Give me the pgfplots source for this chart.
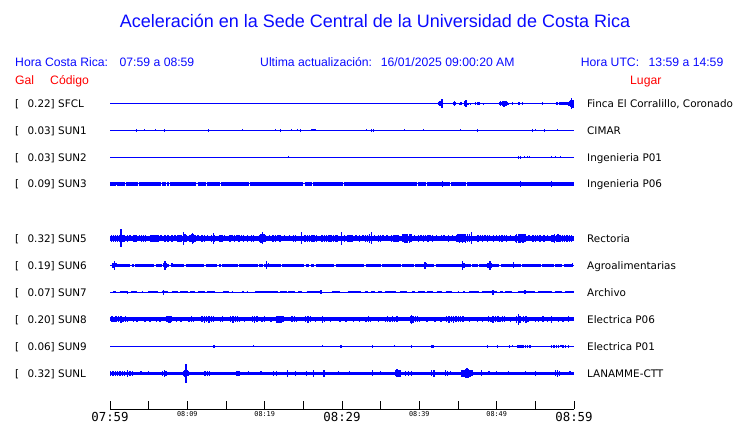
\documentclass[border=0pt]{standalone}
\usepackage{pgfplots}
\usepackage{pgfplotstable}
\pgfplotsset{compat=1.18}
\usepackage{fontspec}
\setmainfont{Liberation Sans}
\newfontfamily\dejavu{DejaVu Sans}
\newfontfamily\dmono{DejaVu Sans Mono}
\definecolor{tracecol}{RGB}{0,0,255}
\definecolor{hblue}{RGB}{10,10,255}
\definecolor{hred}{RGB}{255,0,0}

% spike / burst tables: t = minutes after 07:59, a = half amplitude (px)
\pgfplotstableread[row sep=\\]{t y a\\
42.45 0 1.5\\ 42.6 0 2.5\\ 42.75 0 2.7\\ 42.85 0 2.5\\ 42.93 0 4.2\\ 43.02 0 1.5\\
44.4 0 1.8\\ 44.55 0 2.2\\ 44.7 0 1.5\\ 45.2 0 1.0\\ 45.4 0 1.2\\ 45.9 0 2.8\\ 46.05 0 3.2\\
46.3 0 0.8\\ 46.6 0 1.0\\ 47.3 0 1.3\\ 47.5 0 1.5\\ 47.7 0 1.2\\ 48.3 0 0.8\\
50.35 0 1.5\\ 50.5 0 2.3\\ 50.65 0 1.8\\ 50.8 0 2.6\\ 50.95 0 3.0\\ 51.1 0 2.2\\ 51.25 0 2.4\\ 51.4 0 1.6\\
51.55 0 0.9\\ 52.07 0 1.2\\ 52.9 0 1.5\\ 53.37 0 1.4\\ 55.95 0 1.2\\
57.7 0 1.6\\ 57.9 0 1.8\\ 58.1 0 1.2\\ 58.3 0 1.4\\ 58.5 0 1.8\\ 58.7 0 1.5\\ 58.9 0 1.8\\ 59.1 0 1.6\\ 59.25 0 2.0\\
59.4 0 2.5\\ 59.55 0 3.5\\ 59.7 0 5.3\\ 59.85 0 4.0\\ 59.97 0 2.8\\
}\sfcl
\pgfplotstableread[row sep=\\]{t y a\\
3.45 0 1.3\\ 4.44 0 1.0\\ 5.9 0 0.8\\ 7.03 0 1.3\\ 12.72 0 1.3\\ 17.11 0 0.8\\ 21.42 0 0.8\\ 22.07 0 1.3\\
23.49 0 0.8\\ 24.22 0 1.0\\ 24.66 0 1.3\\ 26.1 0 1.0\\ 26.3 0 1.0\\ 26.5 0 1.0\\ 33.19 0 0.8\\ 33.85 0 1.5\\ 34.05 0 1.5\\
38.06 0 0.8\\ 40.52 0 0.8\\ 45.34 0 0.8\\ 47.54 0 1.3\\ 54.61 0 1.3\\ 55.04 0 0.8\\ 56.16 0 1.3\\ 57.84 0 0.8\\
}\sunone
\pgfplotstableread[row sep=\\]{t y a\\
23.06 0 0.8\\ 52.85 0 1.3\\ 53.05 0 1.3\\ 53.58 0 1.2\\ 53.97 0 1.2\\ 54.22 0 1.2\\ 57.11 0 1.2\\ 57.63 0 1.2\\ 58.28 0 1.2\\
}\suntwo
\pgfplotstableread[row sep=\\]{t y a\\
0.86 0 1.5\\ 42.97 0 3.0\\ 53.1 0 3.3\\ 54.22 0 2.2\\ 57.11 0 2.7\\ 59.48 0 1.8\\
}\sunthree
\pgfplotstableread[row sep=\\]{t y a\\
0.2 0 3.3\\ 0.45 0 3.6\\ 0.7 0 3.2\\ 0.95 0 3.5\\ 1.2 0 3.8\\ 1.42 0 9.0\\ 1.6 0 3.5\\ 1.8 0 3.2\\
2.3 0 3.2\\ 2.6 0 3.0\\
3.0 0 3.4\\ 3.25 0 3.6\\ 3.45 0 3.2\\ 3.8 0 3.0\\ 4.1 0 3.3\\ 4.35 0 3.5\\ 4.6 0 3.2\\
5.2 0 3.6\\ 5.45 0 3.3\\ 5.7 0 3.8\\ 5.95 0 3.4\\ 6.2 0 3.5\\ 6.6 0 3.1\\ 7.1 0 3.5\\ 7.5 0 3.4\\
8.0 0 3.2\\ 8.4 0 3.0\\ 8.8 0 3.3\\
9.05 0 3.3\\ 9.25 0 3.8\\ 9.48 0 6.5\\ 9.7 0 4.0\\ 9.9 0 3.4\\
10.35 0 3.6\\ 10.5 0 4.0\\ 10.65 0 5.8\\ 10.8 0 4.2\\ 11.0 0 3.5\\ 11.4 0 3.0\\ 11.9 0 3.2\\ 12.2 0 3.3\\ 12.6 0 3.1\\
13.15 0 3.5\\ 13.36 0 5.5\\ 13.55 0 3.8\\ 14.2 0 3.2\\ 14.5 0 3.4\\ 14.8 0 3.1\\
15.5 0 3.2\\ 15.8 0 3.0\\ 16.1 0 3.4\\ 16.4 0 3.1\\ 16.7 0 3.3\\ 17.0 0 3.0\\ 17.3 0 3.2\\ 17.8 0 3.2\\
18.3 0 3.4\\ 18.55 0 3.6\\ 19.4 0 3.8\\ 19.55 0 4.2\\ 19.7 0 6.0\\ 19.9 0 4.0\\ 20.1 0 3.6\\ 20.6 0 3.0\\
21.1 0 3.2\\ 21.4 0 3.3\\ 21.7 0 3.0\\ 22.0 0 3.4\\ 22.6 0 3.1\\ 23.2 0 3.0\\ 23.7 0 3.2\\ 24.0 0 3.3\\ 24.78 0 6.0\\
25.2 0 3.3\\ 25.5 0 3.6\\ 25.8 0 3.2\\ 26.1 0 3.5\\ 26.4 0 3.3\\ 26.7 0 3.6\\
27.4 0 3.4\\ 27.7 0 3.2\\ 28.0 0 3.6\\ 28.3 0 3.3\\ 28.6 0 3.5\\ 28.9 0 3.2\\ 29.2 0 3.6\\ 29.45 0 3.4\\
29.96 0 6.3\\ 30.3 0 3.2\\ 30.8 0 3.5\\ 31.05 0 3.8\\ 31.3 0 3.4\\ 31.8 0 3.1\\ 32.3 0 3.3\\ 32.7 0 3.0\\
33.0 0 3.4\\ 33.3 0 3.8\\ 33.55 0 4.2\\ 33.8 0 6.0\\ 34.2 0 3.1\\ 34.7 0 3.2\\ 35.0 0 3.4\\ 35.3 0 3.1\\ 35.8 0 3.0\\
36.4 0 3.5\\ 36.7 0 3.3\\ 37.0 0 3.6\\ 37.25 0 3.4\\
37.9 0 4.0\\ 38.1 0 4.5\\ 38.3 0 4.3\\ 38.5 0 4.6\\ 38.7 0 4.2\\ 38.9 0 4.0\\ 39.4 0 3.1\\
39.9 0 3.2\\ 40.2 0 3.0\\ 40.5 0 3.3\\ 40.8 0 3.1\\ 41.1 0 3.2\\ 41.4 0 3.0\\ 41.7 0 3.3\\ 42.2 0 3.0\\
42.9 0 2.9\\ 43.2 0 3.0\\ 43.8 0 3.2\\ 44.3 0 3.1\\
44.8 0 3.8\\ 45.0 0 4.1\\ 45.2 0 4.3\\ 45.4 0 3.9\\ 45.6 0 4.2\\ 45.8 0 4.0\\ 46.0 0 4.4\\ 46.2 0 3.9\\ 46.45 0 4.1\\ 46.77 0 6.0\\
47.6 0 3.2\\ 47.9 0 3.1\\ 48.2 0 3.4\\ 48.5 0 3.1\\ 48.8 0 3.3\\ 49.1 0 3.0\\ 49.6 0 3.2\\ 50.0 0 3.0\\
50.4 0 3.2\\ 50.7 0 3.4\\ 51.0 0 3.1\\ 51.3 0 3.3\\ 51.8 0 3.1\\
52.4 0 3.8\\ 52.6 0 4.2\\ 52.8 0 4.5\\ 53.0 0 4.2\\ 53.2 0 3.9\\ 53.4 0 4.3\\ 53.65 0 3.9\\ 54.2 0 3.0\\
54.7 0 3.2\\ 55.0 0 3.4\\ 55.3 0 3.1\\ 55.6 0 3.3\\ 56.1 0 3.2\\ 56.6 0 3.0\\
57.1 0 3.5\\ 57.3 0 3.8\\ 57.5 0 4.5\\ 57.7 0 3.6\\ 57.95 0 3.9\\ 58.2 0 3.4\\ 58.5 0 3.7\\ 58.8 0 3.5\\ 59.1 0 3.8\\ 59.4 0 3.4\\ 59.65 0 3.6\\
}\sunfive
\pgfplotstableread[row sep=\\]{t y a\\
0.4 0 2.2\\ 0.56 0 4.8\\ 0.75 0 2.0\\ 1.5 0 1.8\\ 3.6 0 1.8\\ 4.0 0 1.6\\ 6.9 0 2.0\\ 7.11 0 4.8\\ 7.3 0 2.2\\
8.0 0 2.0\\ 8.3 0 1.8\\ 10.7 0 1.8\\ 13.8 0 1.8\\ 18.5 0 1.6\\ 20.26 0 4.0\\ 20.5 0 2.0\\ 24.0 0 1.8\\
27.5 0 1.8\\ 31.0 0 1.7\\ 34.5 0 1.8\\ 38.0 0 1.8\\ 40.73 0 3.5\\ 40.9 0 2.0\\ 41.1 0 1.8\\ 43.3 0 1.8\\
45.56 0 4.8\\ 45.8 0 2.2\\ 47.0 0 1.8\\ 48.9 0 2.5\\ 49.14 0 4.8\\ 49.3 0 2.2\\ 52.16 0 3.0\\ 54.0 0 1.6\\ 57.0 0 1.8\\ 59.8 0 2.0\\
}\sunsix
\pgfplotstableread[row sep=\\]{t y a\\
2.3 0 1.5\\ 6.9 0 2.3\\ 27.3 0 2.0\\ 49.5 0 2.2\\ 53.65 0 2.0\\
}\sunseven
\pgfplotstableread[row sep=\\]{t y a\\
0.25 0 3.0\\ 0.5 0 2.8\\ 0.8 0 3.1\\ 1.1 0 2.9\\ 1.4 0 3.2\\ 1.7 0 2.8\\ 2.0 0 3.0\\ 2.3 0 2.8\\
3.0 0 2.8\\ 3.5 0 2.7\\ 4.53 0 2.8\\ 5.17 0 2.8\\ 6.0 0 2.8\\ 6.47 0 2.7\\ 7.35 0 3.0\\ 7.55 0 3.6\\ 7.75 0 3.4\\ 7.95 0 2.9\\
8.6 0 2.7\\ 9.2 0 2.8\\
10.2 0 2.8\\ 10.5 0 3.0\\ 10.8 0 2.8\\ 11.9 0 2.9\\ 12.2 0 3.3\\ 12.5 0 3.0\\ 12.8 0 3.2\\ 13.1 0 2.9\\ 13.4 0 3.1\\
14.3 0 2.8\\ 14.55 0 2.9\\ 15.6 0 3.0\\ 15.9 0 3.2\\ 16.2 0 2.9\\ 16.5 0 3.1\\ 16.75 0 2.8\\ 17.4 0 2.7\\
18.4 0 3.0\\ 18.7 0 3.2\\ 19.0 0 2.9\\ 19.65 0 2.8\\ 19.95 0 2.9\\ 20.8 0 2.8\\
21.6 0 3.2\\ 21.85 0 3.6\\ 22.1 0 3.4\\ 22.35 0 3.0\\ 23.55 0 2.9\\ 23.85 0 3.1\\ 24.15 0 2.8\\
25.3 0 3.0\\ 25.6 0 3.2\\ 25.9 0 2.9\\ 26.6 0 2.7\\ 27.45 0 3.3\\ 27.75 0 2.8\\ 28.5 0 2.8\\ 29.74 0 2.8\\
30.5 0 2.7\\ 31.5 0 2.8\\ 32.3 0 2.7\\
33.1 0 2.8\\ 33.4 0 3.0\\ 33.7 0 2.8\\ 34.7 0 2.8\\
35.6 0 2.8\\ 35.9 0 3.0\\ 36.2 0 2.8\\ 36.5 0 3.0\\ 36.8 0 2.8\\ 37.1 0 2.9\\
38.85 0 3.2\\ 39.0 0 4.2\\ 39.2 0 3.5\\ 39.5 0 3.0\\ 39.8 0 3.1\\ 40.05 0 2.8\\
41.0 0 2.8\\ 42.0 0 2.7\\ 42.8 0 2.8\\
43.55 0 2.9\\ 43.85 0 3.2\\ 44.15 0 3.0\\ 44.45 0 3.3\\ 44.75 0 3.0\\ 45.05 0 3.1\\ 45.35 0 2.9\\ 45.65 0 3.0\\
46.5 0 2.7\\ 47.5 0 2.8\\ 48.2 0 2.7\\
48.95 0 3.0\\ 49.25 0 2.8\\ 49.55 0 3.2\\ 49.85 0 2.9\\ 50.15 0 3.1\\ 50.45 0 2.8\\ 50.75 0 3.0\\ 51.0 0 2.9\\ 51.8 0 2.8\\
52.6 0 3.2\\ 52.8 0 5.5\\ 53.0 0 3.4\\ 53.5 0 3.0\\ 53.8 0 3.2\\ 54.05 0 2.8\\
55.0 0 2.7\\ 55.4 0 2.8\\ 56.0 0 2.9\\ 56.6 0 2.8\\ 57.1 0 3.2\\ 58.0 0 2.7\\ 58.6 0 2.8\\ 59.27 0 2.9\\
}\suneight
\pgfplotstableread[row sep=\\]{t y a\\
13.36 0 1.3\\ 13.55 0 1.3\\ 18.53 0 1.0\\ 22.28 0 0.8\\ 23.06 0 0.8\\ 24.05 0 0.8\\ 26.81 0 0.8\\ 27.46 0 1.0\\
29.87 0 1.2\\ 33.97 0 1.3\\ 36.77 0 1.0\\ 39.0 0 1.2\\ 41.6 0 1.5\\ 41.75 0 1.3\\ 43.23 0 0.8\\ 43.88 0 0.8\\
45.78 0 0.8\\ 48.8 0 1.2\\ 50.13 0 1.3\\ 51.64 0 1.2\\ 52.03 0 1.0\\
52.7 0 1.3\\ 52.9 0 1.8\\ 53.1 0 1.5\\ 53.3 0 1.3\\ 53.5 0 1.2\\ 53.7 0 1.4\\ 54.0 0 1.2\\ 54.3 0 1.3\\ 55.8 0 0.8\\
57.1 0 1.2\\ 57.4 0 1.3\\ 57.7 0 1.2\\ 58.0 0 1.3\\ 58.3 0 1.1\\ 58.6 0 1.3\\ 58.9 0 1.2\\ 59.3 0 1.3\\
}\sunnine
\pgfplotstableread[row sep=\\]{t y a\\
0.1 0 2.2\\ 0.4 0 2.5\\ 0.7 0 2.3\\ 1.0 0 2.5\\ 1.3 0 2.2\\ 1.6 0 2.4\\ 1.9 0 2.2\\
2.24 0 3.5\\ 2.6 0 2.5\\ 2.9 0 2.4\\ 4.0 0 2.0\\ 5.0 0 2.0\\ 6.75 0 2.3\\ 7.03 0 3.6\\ 7.25 0 2.4\\
9.5 0 2.8\\ 9.65 0 3.2\\ 9.83 0 9.3\\ 10.0 0 3.0\\ 10.15 0 2.4\\ 12.3 0 2.4\\ 12.6 0 2.6\\ 12.9 0 2.3\\
16.4 0 2.4\\ 16.7 0 2.6\\ 17.89 0 2.0\\ 19.5 0 2.0\\ 21.15 0 2.4\\ 21.5 0 2.6\\ 22.97 0 3.5\\ 24.0 0 2.2\\
25.43 0 2.5\\ 26.3 0 3.5\\ 27.67 0 3.5\\ 29.53 0 2.0\\ 31.0 0 2.0\\ 33.97 0 3.0\\ 35.0 0 2.0\\
36.9 0 3.0\\ 37.1 0 4.0\\ 37.3 0 3.6\\ 37.5 0 3.2\\ 38.2 0 2.5\\ 38.6 0 2.8\\ 39.0 0 2.5\\
41.6 0 3.0\\ 41.9 0 3.2\\ 43.35 0 3.0\\ 43.65 0 2.8\\ 44.0 0 2.0\\
45.5 0 3.2\\ 45.75 0 3.8\\ 45.95 0 4.5\\ 46.15 0 5.0\\ 46.35 0 4.5\\ 46.55 0 3.6\\ 46.8 0 3.0\\
48.06 0 3.0\\ 49.0 0 2.0\\ 50.0 0 2.0\\ 51.5 0 2.0\\ 53.75 0 2.0\\ 55.0 0 2.2\\
57.6 0 3.0\\ 57.85 0 3.4\\ 58.1 0 2.8\\ 59.5 0 2.0\\
}\sunl

\pgfplotsset{
  trace/.style={at={(110bp,#1bp)}, anchor=south west, scale only axis, width=464bp, height=28bp,
    xmin=0, xmax=60, ymin=-14, ymax=14, hide axis, clip=false},
  base/.style={draw=tracecol, line width=1bp, mark=none},
  core/.style={draw=tracecol, line width=#1, mark=none, unbounded coords=jump, line cap=butt},
  spk/.style={draw=tracecol, line width=1bp, mark=none,
    error bars/y dir=both, error bars/y explicit, error bars/error mark=none,
    error bars/error bar style={line width=1.4bp, draw=tracecol, line cap=butt}},
}
\newcommand{\hfont}{\fontsize{12.2bp}{14bp}\selectfont}
\newcommand{\lfont}{\dejavu\fontsize{10.4bp}{12bp}\selectfont}
\newcommand{\bigt}{\dmono\fontsize{12.4bp}{13bp}\selectfont}
\newcommand{\smt}{\dmono\fontsize{6.8bp}{7bp}\selectfont}

\begin{document}
\begin{tikzpicture}[x=1bp,y=1bp]
\useasboundingbox (0,0) rectangle (740,423);
% header
\node[anchor=base, inner sep=0, text=hblue, font=\fontsize{18bp}{20bp}\selectfont] at (375,395) {Aceleración en la Sede Central de la Universidad de Costa Rica};
\begin{scope}[every node/.style={inner sep=0, font=\hfont}]
\node[anchor=base west, text=hblue] at (15,357) {Hora Costa Rica:};
\node[anchor=base east, text=hblue] at (194.5,357) {07:59 a 08:59};
\node[anchor=base west, text=hblue] at (260,357) {Ultima actualización:};
\node[anchor=base west, text=hblue] at (380.7,357) {16/01/2025 09:00:20 AM};
\node[anchor=base west, text=hblue] at (580.7,357) {Hora UTC:};
\node[anchor=base east, text=hblue] at (723.5,357) {13:59 a 14:59};
\node[anchor=base west, text=hred] at (15,338.5) {Gal};
\node[anchor=base west, text=hred] at (50,338.5) {Código};
\node[anchor=base west, text=hred] at (630,338.5) {Lugar};
\end{scope}
% station labels
\begin{scope}[every node/.style={inner sep=0, font=\lfont, text=black}]
\foreach \yy/\gal/\cod/\lug in {319.3/0.22/SFCL/{Finca El Corralillo, Coronado}, 292.7/0.03/SUN1/CIMAR,
  265.7/0.03/SUN2/Ingenieria P01, 239/0.09/SUN3/Ingenieria P06, 184.7/0.32/SUN5/Rectoria,
  157.7/0.19/SUN6/Agroalimentarias, 130.7/0.07/SUN7/Archivo, 103.7/0.20/SUN8/Electrica P06,
  76.7/0.06/SUN9/Electrica P01, 49.7/0.32/SUNL/LANAMME-CTT}{
  \node[anchor=base west] at (15,\yy-3.7) {[};
  \node[anchor=base east] at (55,\yy-3.7) {\gal]};
  \node[anchor=base west] at (58,\yy-3.7) {\cod};
  \node[anchor=base west] at (587,\yy-3.7) {\lug};
}
\end{scope}

% rows: axis bottom (ymin=-14) at row centre - 14
% SFCL
\begin{axis}[trace=305.3]
\addplot[base] coordinates {(0,0)(60,0)};
\addplot[core=5.0bp] coordinates {(42.5,0)(42.95,0) (59.4,nan) (59.42,0)(60,0)};
\addplot[spk] table[x=t,y=y,y error=a]{\sfcl};
\end{axis}
% SUN1
\begin{axis}[trace=278.7]
\addplot[base] coordinates {(0,0)(60,0)};
\addplot[spk] table[x=t,y=y,y error=a]{\sunone};
\end{axis}
% SUN2
\begin{axis}[trace=251.7]
\addplot[base] coordinates {(0,0)(60,0)};
\addplot[spk] table[x=t,y=y,y error=a]{\suntwo};
\end{axis}
% SUN3
\begin{axis}[trace=225]
\addplot[base] coordinates {(0,0)(60,0)};
\addplot[core=3.3bp] coordinates {(0.05,0)(0.78,0) (0.86,nan) (0.95,0)(1.95,0) (2.03,nan) (2.1,0)(3.6,0)
 (3.66,nan) (3.75,0)(6.6,0) (6.68,nan) (6.78,0)(7.2,0) (7.28,nan) (7.36,0)(7.65,0) (7.72,nan) (7.8,0)(11.17,0)
 (11.25,nan) (11.33,0)(12.42,0) (12.5,nan) (12.58,0)(14.23,0) (14.31,nan) (14.4,0)(17.98,0) (18.06,nan)
 (18.15,0)(25.0,0) (25.09,nan) (25.18,0)(26.08,0) (26.16,nan) (26.25,0)(30.08,0) (30.17,nan) (30.26,0)(39.7,0)
 (39.78,nan) (39.86,0)(40.87,0) (40.95,nan) (41.04,0)(43.97,0) (44.05,nan) (44.14,0)(46.0,0) (46.08,nan) (46.17,0)(60,0)};
\addplot[spk] table[x=t,y=y,y error=a]{\sunthree};
\end{axis}
% SUN5
\begin{axis}[trace=170.7]
\addplot[base] coordinates {(0,0)(60,0)};
\addplot[core=5.2bp] coordinates {(0.05,0)(60,0)};
\addplot[spk] table[x=t,y=y,y error=a]{\sunfive};
\end{axis}
% SUN6
\begin{axis}[trace=143.7]
\addplot[base] coordinates {(0,0)(60,0)};
\addplot[core=2.7bp] coordinates {(0.2,0)(2.62,0) (2.7,nan) (2.82,0)(3.05,0) (3.1,nan) (3.25,0)(5.72,0) (5.8,nan)
 (5.92,0)(6.67,0) (6.7,nan) (6.87,0)(7.66,0) (7.7,nan) (7.86,0)(9.6,0) (9.7,nan) (9.8,0)(10.55,0) (10.6,nan)
 (10.75,0)(12.18,0) (12.3,nan) (12.38,0)(13.9,0) (14,nan) (14.1,0)(14.34,0) (14.4,nan) (14.54,0)(16.5,0) (16.6,nan)
 (16.7,0)(19.08,0) (19.2,nan) (19.28,0)(19.73,0) (19.8,nan) (19.93,0)(22.1,0) (22.2,nan) (22.3,0)(25.1,0) (25.2,nan)
 (25.3,0)(25.76,0) (25.8,nan) (25.96,0)(26.4,0) (26.5,nan) (26.6,0)(29.0,0) (29.1,nan) (29.2,0)(32.9,0) (33,nan)
 (33.1,0)(35.03,0) (35.1,nan) (35.23,0)(37.6,0) (37.7,nan) (37.8,0)(39.3,0) (39.4,nan) (39.5,0)(41.9,0) (42,nan)
 (42.1,0)(46.67,0) (46.8,nan) (46.87,0)(47.53,0) (47.6,nan) (47.73,0)(50.33,0) (50.4,nan) (50.53,0)(53.13,0) (53.2,nan)
 (53.33,0)(55.7,0) (55.8,nan) (55.9,0)(57.4,0) (57.5,nan) (57.6,0)(58.5,0) (58.6,nan) (58.7,0)(59.9,0)};
\addplot[spk] table[x=t,y=y,y error=a]{\sunsix};
\end{axis}
% SUN7
\begin{axis}[trace=116.7]
\addplot[base] coordinates {(0,0)(60,0)};
\addplot[core=2.2bp] coordinates {(0.43,0)(0.78,0) (1,nan) (1.29,0)(2.37,0) (2.5,nan) (2.67,0)(3.53,0) (3.8,nan)
 (4.09,0)(4.31,0) (4.6,nan) (4.96,0)(6.16,0) (6.4,nan) (6.68,0)(7.54,0) (7.7,nan) (7.97,0)(8.84,0) (9,nan)
 (9.09,0)(10.13,0) (10.2,nan) (10.39,0)(10.99,0) (11.1,nan) (11.34,0)(12.28,0) (12.4,nan) (12.5,0)(13.58,0) (14,nan)
 (14.66,0)(15.39,0) (15.5,nan) (15.73,0)(15.95,0) (16.5,nan) (17.03,0)(17.37,0) (17.5,nan) (17.67,0)(17.89,0) (18.3,nan)
 (18.75,0)(21.77,0) (21.9,nan) (21.98,0)(22.84,0) (22.9,nan) (23.06,0)(23.92,0) (24.1,nan) (24.35,0)(24.78,0) (25,nan)
 (25.43,0)(27.37,0) (28,nan) (28.66,0)(29.74,0) (30.2,nan) (30.73,0)(32.46,0) (32.7,nan) (32.97,0)(33.41,0) (33.6,nan)
 (33.75,0)(34.27,0) (34.4,nan) (34.61,0)(35.13,0) (35.3,nan) (35.56,0)(36.94,0) (37.2,nan) (37.5,0)(38.36,0) (38.7,nan)
 (39.01,0)(39.44,0) (39.6,nan) (39.78,0)(40.73,0) (40.8,nan) (40.95,0)(41.81,0) (42,nan) (42.24,0)(42.89,0) (43.1,nan)
 (43.4,0)(44.18,0) (44.5,nan) (44.96,0)(45.17,0) (45.4,nan) (45.69,0)(45.91,0) (46.2,nan) (46.47,0)(47.76,0) (47.9,nan)
 (48.06,0)(50.0,0) (50.2,nan) (50.43,0)(50.86,0) (51,nan) (51.08,0)(51.94,0) (52.3,nan) (52.72,0)(54.96,0) (55.1,nan)
 (55.3,0)(57.11,0) (57.3,nan) (57.54,0)(58.41,0) (58.6,nan) (58.84,0)(60,0)};
\addplot[spk] table[x=t,y=y,y error=a]{\sunseven};
\end{axis}
% SUN8
\begin{axis}[trace=89.7]
\addplot[base] coordinates {(0,0)(60,0)};
\addplot[core=3.7bp] coordinates {(0.05,0)(60,0)};
\addplot[spk] table[x=t,y=y,y error=a]{\suneight};
\end{axis}
% SUN9
\begin{axis}[trace=62.7]
\addplot[base] coordinates {(0,0)(60,0)};
\addplot[spk] table[x=t,y=y,y error=a]{\sunnine};
\end{axis}
% SUNL
\begin{axis}[trace=35.7]
\addplot[base] coordinates {(0,0)(60,0)};
\addplot[core=3.0bp] coordinates {(0.0,0)(60,0)};
\addplot[spk] table[x=t,y=y,y error=a]{\sunl};
\end{axis}

% time axis
\begin{axis}[at={(110bp,14bp)}, anchor=south west, scale only axis, width=464bp, height=10bp,
  xmin=0, xmax=60, ymin=0, ymax=1, axis x line=bottom, axis y line=none,
  axis line style={-, line width=1bp, black},
  xtick={0,5,...,60},
  xticklabels={{\bigt 07:59},{},{\smt 08:09},{},{\smt 08:19},{},{\bigt 08:29},{},{\smt 08:39},{},{\smt 08:49},{},{\bigt 08:59}},
  tick align=inside, major tick length=8bp, tick style={line width=1bp, black},
  xticklabel style={inner sep=0pt, anchor=north, yshift=-2.6bp}]
\addplot[draw=none] coordinates {(0,0)(60,0)};
\end{axis}
\end{tikzpicture}
\end{document}
